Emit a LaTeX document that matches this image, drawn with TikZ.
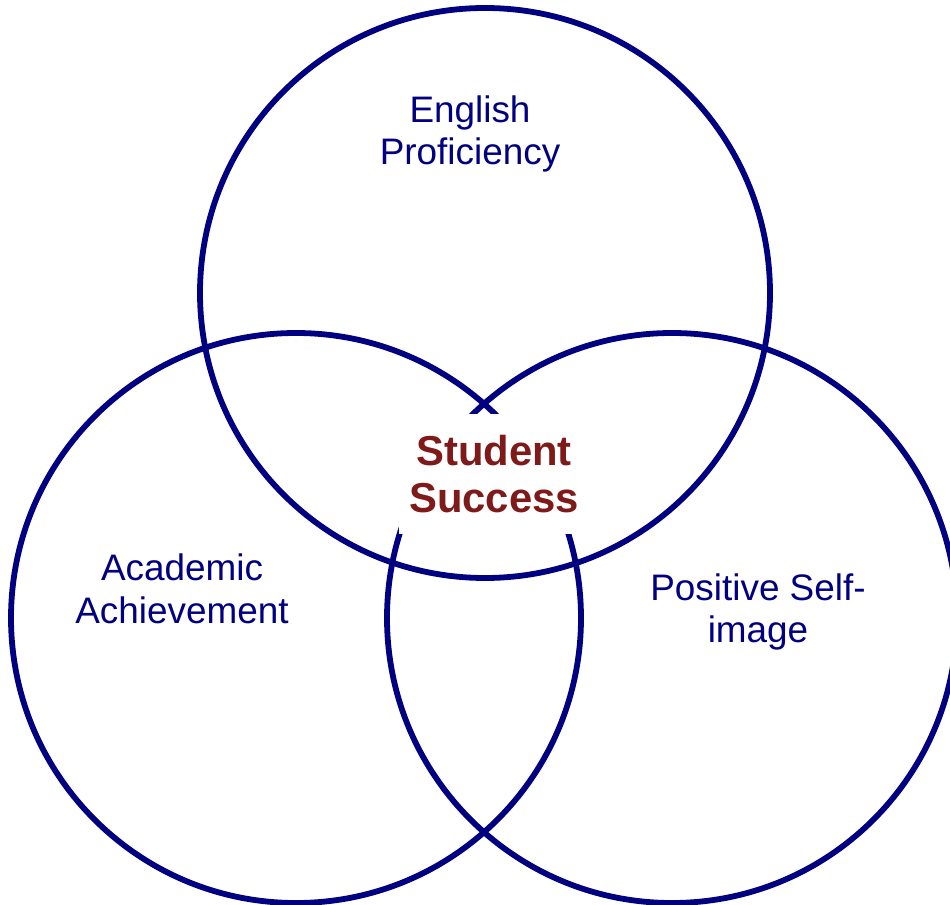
\documentclass[tikz,border=0pt]{standalone}
\usepackage{fontspec}
\setmainfont{Liberation Sans}
\definecolor{ringblue}{HTML}{000080}
\definecolor{successred}{HTML}{7F1A1A}
\begin{document}
\begin{tikzpicture}[x=0.02cm,y=-0.02cm,
  ring/.style={draw=ringblue,line width=3.3pt},
  label/.style={text=ringblue,align=center,inner sep=0pt,
    font=\fontsize{21pt}{24.4pt}\selectfont},
  core/.style={text=successred,align=center,fill=white,inner sep=0pt,
    minimum width=3.8cm,minimum height=2.42cm,
    font=\fontsize{23.8pt}{26.8pt}\selectfont\bfseries}]
\useasboundingbox (0,0) rectangle (950,905);
\begin{scope}
\clip (0,0) rectangle (950,905);
% the three overlapping circles
\draw[ring] (485,293) circle (285);
\draw[ring] (296,618) circle (285);
\draw[ring] (672,618) circle (285);
\end{scope}
% circle captions
\node[label] (english) at (470,134) {English\\Proficiency};
\node[label] (academic) at (182,589) {Academic\\Achievement};
\node[label] (selfimage) at (758,612) {Positive Self-\\image};
% shared centre
\node[core] (success) at (494,474) {Student\\Success};
\end{tikzpicture}
\end{document}
